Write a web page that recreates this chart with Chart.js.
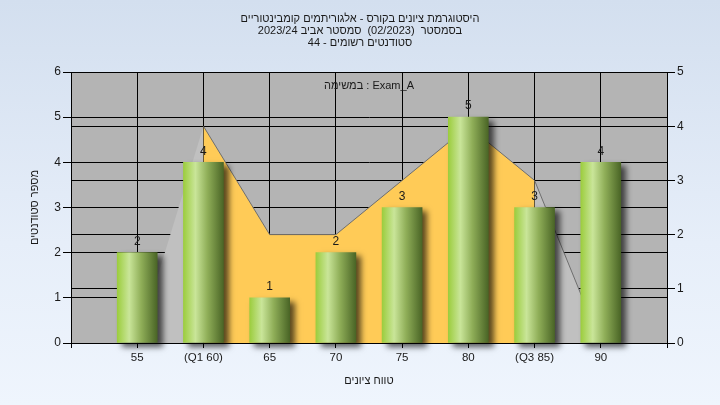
<!DOCTYPE html>
<html>
<head>
<meta charset="utf-8">
<script src="https://cdn.jsdelivr.net/npm/chart.js@4/dist/chart.umd.min.js"></script>
<style>
  html, body { margin: 0; padding: 0; }
  body { width: 720px; height: 405px; background: linear-gradient(to bottom, #d3dfef 0%, #e6eef9 60%, #eff5fd 100%); overflow: hidden; }
  canvas { display: block; }
</style>
</head>
<body>
<canvas id="chart" width="720" height="405"></canvas>
<script>
// נתוני הגרף
const categories = ['55', '(Q1 60)', '65', '70', '75', '80', '(Q3 85)', '90'];
const studentCounts = [2, 4, 1, 2, 3, 5, 3, 4];
const areaValues = [0, 4, 2, 2, 3, 4, 3, 0];   // ציר ימני
const leftMax = 6;
const rightMax = 5;
const titleLines = [
    'היסטוגרמת ציונים בקורס - אלגוריתמים קומבינטוריים',
    'בסמסטר  (02/2023)  סמסטר אביב 2023/24',
    'סטודנטים רשומים - 44'
];
const taskLabel = 'במשימה : Exam_A';
const yTitle = 'מספר סטודנטים';
const xTitle = 'טווח ציונים';

const FONT = '"Liberation Sans", Arial, sans-serif';
const TEXT = '#1a1a1a';

// רקע אפור לאזור הגרף
const plotBg = {
    id: 'plotBg',
    beforeDraw(chart) {
        const {ctx, chartArea: a} = chart;
        ctx.save();
        ctx.fillStyle = '#b4b4b4';
        ctx.fillRect(a.left, a.top, a.right - a.left, a.bottom - a.top);
        ctx.restore();
    }
};

// צל לעמודות
const barShadow = {
    id: 'barShadow',
    beforeDatasetDraw(chart, args) {
        if (args.index !== 0) return;
        const ctx = chart.ctx;
        ctx.save();
        ctx.shadowColor = 'rgba(0,0,0,0.65)';
        ctx.shadowBlur = 6;
        ctx.shadowOffsetX = 5;
        ctx.shadowOffsetY = 4;
    },
    afterDatasetDraw(chart, args) {
        if (args.index !== 0) return;
        chart.ctx.restore();
    }
};

// תוויות ערכים ותווית משימה
const labels = {
    id: 'labels',
    afterDatasetsDraw(chart) {
        const ctx = chart.ctx;
        const meta = chart.getDatasetMeta(0);
        ctx.save();
        ctx.font = '12px ' + FONT;
        ctx.fillStyle = TEXT;
        ctx.textAlign = 'center';
        ctx.textBaseline = 'bottom';
        meta.data.forEach((el, i) => {
            ctx.fillText(String(studentCounts[i]), el.x, el.y - 5);
        });
        const a = chart.chartArea;
        ctx.font = '11px ' + FONT;
        ctx.textBaseline = 'middle';
        ctx.fillText(taskLabel, (a.left + a.right) / 2, a.top + 14);
        ctx.restore();
    }
};

function barGradient(c) {
    const chart = c.chart;
    const xs = chart.scales.x;
    if (c.type !== 'data' || !xs || !xs.width) return '#9ccc3c';
    const cx = xs.getPixelForValue(c.raw.x);
    const g = chart.ctx.createLinearGradient(cx - 20, 0, cx + 20, 0);
    g.addColorStop(0, '#9ccd3e');
    g.addColorStop(0.3, '#c9e599');
    g.addColorStop(0.6, '#8fae58');
    g.addColorStop(1, '#4a6526');
    return g;
}

const ctx = document.getElementById('chart').getContext('2d');
new Chart(ctx, {
    data: {
        datasets: [
            {
                type: 'bar',
                data: studentCounts.map((v, i) => ({x: i + 1, y: v})),
                backgroundColor: barGradient,
                borderWidth: 0,
                barThickness: 40,
                yAxisID: 'y',
                order: 1,
                clip: false
            },
            {
                type: 'line',
                data: areaValues.map((v, i) => ({x: i + 1, y: v})),
                yAxisID: 'y2',
                borderColor: '#6e6e6e',
                borderWidth: 1,
                pointRadius: 0,
                tension: 0,
                fill: 'origin',
                backgroundColor: '#c0c0c0',
                segment: {
                    // בין Q1 ל-Q3 כתום, מחוץ לטווח אפור
                    backgroundColor: s => (s.p0DataIndex >= 1 && s.p1DataIndex <= 6) ? '#ffcb57' : '#c0c0c0',
                    borderColor: s => s.p0DataIndex === 0 ? 'rgba(0,0,0,0)' : '#6e6e6e'
                },
                order: 2
            }
        ]
    },
    options: {
        responsive: false,
        animation: false,
        layout: { padding: 0 },
        plugins: {
            legend: { display: false },
            tooltip: { enabled: false },
            title: {
                display: true,
                text: titleLines,
                color: TEXT,
                font: { family: FONT, size: 11, weight: 'normal', lineHeight: 12 / 11 },
                padding: { top: 13, bottom: 23 }
            }
        },
        scales: {
            x: {
                type: 'linear',
                min: 0,
                max: 9,
                offset: false,
                afterFit: s => { s.height = 62; },
                ticks: {
                    stepSize: 1,
                    autoSkip: false,
                    maxRotation: 0,
                    padding: 3,
                    color: TEXT,
                    font: { family: FONT, size: 11.5 },
                    callback: v => categories[v - 1] ?? ''
                },
                grid: { color: '#000', lineWidth: 1, tickLength: 5, offset: false },
                border: { color: '#000' },
                title: {
                    display: true,
                    text: xTitle,
                    color: TEXT,
                    font: { family: FONT, size: 11 },
                    padding: { top: 0, bottom: 17 }
                }
            },
            y: {
                position: 'left',
                min: 0,
                max: leftMax,
                afterFit: s => { s.width = 71; },
                ticks: { stepSize: 1, padding: 2, color: TEXT, font: { family: FONT, size: 12 } },
                grid: { color: '#000', lineWidth: 1, tickLength: 8 },
                border: { color: '#000' },
                title: {
                    display: true,
                    text: yTitle,
                    color: TEXT,
                    font: { family: FONT, size: 11 },
                    padding: { top: 28, bottom: 0 }
                }
            },
            y2: {
                position: 'right',
                min: 0,
                max: rightMax,
                afterFit: s => { s.width = 53; },
                ticks: { stepSize: 1, padding: 2, color: TEXT, font: { family: FONT, size: 12 } },
                grid: { color: '#000', lineWidth: 1, tickLength: 8 },
                border: { color: '#000' }
            }
        }
    },
    plugins: [plotBg, barShadow, labels]
});
</script>
</body>
</html>
